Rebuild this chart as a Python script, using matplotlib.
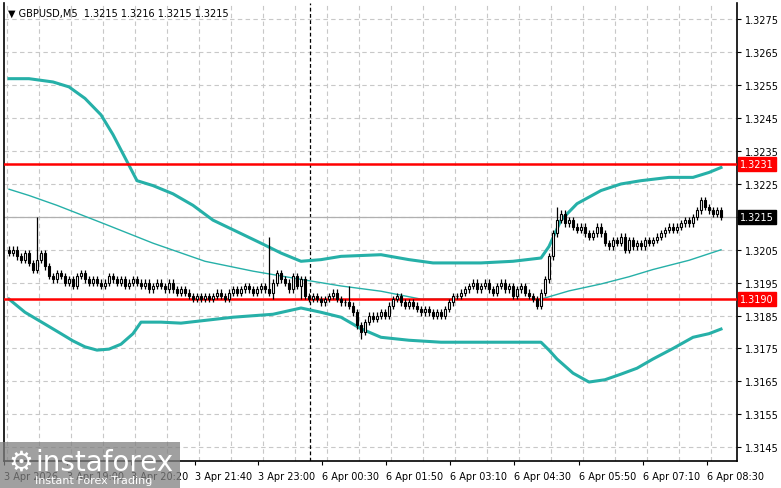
import matplotlib
matplotlib.use("Agg")
import matplotlib.pyplot as plt
import numpy as np
from matplotlib.patches import Rectangle

BASE = 1.3100
PIP = 0.0001
closes = [104,105,103,102,104,101,99,102,104,100,97,96,
          98,97,95,96,94,97,98,96,95,96,95,94,
          95,97,96,95,96,94,95,96,95,94,95,93,94,95,94,93,95,93,92,93,
          92,91,90,91,90,91,90,91,92,91,90,92,
          93,92,93,94,93,92,93,94,93,92,95,98,96,95,93,97,94,96,
          91,90,91,90,89,90,91,92,90,
          89,89,88,86,82,80,83,85,84,
          85,86,85,88,90,91,89,88,89,
          88,87,86,87,86,85,86,85,87,89,91,
          91,92,93,94,95,93,94,95,93,92,94,95,93,94,91,93,94,92,91,90,88,
          92,96,103,110,114,116,113,114,
          112,111,112,110,109,110,112,110,107,106,108,107,109,105,108,106,107,
          106,108,107,108,109,110,111,112,111,112,113,114,113,
          115,117,120,118,117,116,117,115]
high_spikes = {7: 115, 65: 109, 85: 94, 137: 118}
low_spikes = {88: 78, 66: 90, 73: 90}

band_idx_u = [0,5,11,15,19,23,26,29,32,36,41,46,51,57,63,68,73,78,83,93,100,106,118,126,133,135,138,142,148,153,158,165,171,175,178]
upper = [157,157,156,154.5,151,146,140,133,126,124.5,122,118.5,114,110.5,107,104,101.5,102,103,103.5,102,101,101,101.5,102.5,106,114,119,123,125,126,127,127,128.5,130]
band_idx_m = [0,5,12,24,36,49,61,73,83,93,103,118,133,140,148,155,161,170,178]
middle = [123.4,121.5,118.5,112.8,107,101.5,98.5,96,94,92.4,90,90,90,92.5,94.6,96.8,99,101.8,105]
band_idx_l = [0,4,9,13,16,19,22,25,28,31,33,38,43,56,66,73,78,83,88,93,100,108,120,133,135,137,141,145,149,153,157,161,166,171,175,178]
lower = [90,86,82.4,79.5,77.3,75.5,74.5,74.8,76.3,79.5,83,83,82.7,84.5,85.4,87.3,86,84.5,81,78.4,77.5,76.9,76.9,76.9,74.5,71.8,67.5,64.8,65.5,67.2,69,71.8,75,78.4,79.5,80.9]

level_lines = [1.3231, 1.3190]
current_price = 1.3215
price_ticks = [1.3145 + 0.0010*k for k in range(14)]
time_labels = ["3 Apr 2026","3 Apr 19:00","3 Apr 20:20","3 Apr 21:40","3 Apr 23:00","6 Apr 00:30",
               "6 Apr 01:50","6 Apr 03:10","6 Apr 04:30","6 Apr 05:50","6 Apr 07:10","6 Apr 08:30"]

W, H = 781, 489
fig = plt.figure(figsize=(W/100, H/100), dpi=100)
ax = fig.add_axes([4/W, (H-462)/H, (737-4)/W, (462-4)/H])
x0 = -1.25
ax.set_xlim(x0, x0 + 733/4)
ax.set_ylim(1.31408, 1.3280)

for t in price_ticks:
    ax.axhline(t, color="#c8c8c8", lw=0.8, ls=(0,(4,3)), zorder=0)
for gx in np.arange(-0.5, 185, 8):
    ax.axvline(gx, color="#c8c8c8", lw=0.8, ls=(0,(4,3)), zorder=0)
ax.axvline(75.25, color="black", lw=0.9, ls=(0,(3,2)), zorder=1)

cb = "#26b0a8"
ax.plot(band_idx_u, [BASE+v*PIP for v in upper], color=cb, lw=2.2, zorder=2)
ax.plot(band_idx_l, [BASE+v*PIP for v in lower], color=cb, lw=2.2, zorder=2)
ax.plot(band_idx_m, [BASE+v*PIP for v in middle], color=cb, lw=1.0, zorder=2)

ax.axhline(current_price, color="#b0b0b0", lw=0.9, zorder=1)
for lv in level_lines:
    ax.axhline(lv, color="#ff0000", lw=1.8, zorder=3)

prev = closes[0] + 1
for i, c in enumerate(closes):
    o = prev
    hi = max(o, c) + 1
    lo = min(o, c) - 1
    hi = high_spikes.get(i, hi)
    lo = low_spikes.get(i, lo)
    ax.vlines(i, BASE+lo*PIP, BASE+hi*PIP, color="black", lw=0.9, zorder=4)
    bot = min(o, c); h = abs(c - o)
    if h < 0.3:
        ax.hlines(BASE+c*PIP, i-0.35, i+0.35, color="black", lw=0.9, zorder=5)
    else:
        ax.add_patch(Rectangle((i-0.35, BASE+bot*PIP), 0.7, h*PIP,
                               facecolor="white" if c > o else "black",
                               edgecolor="black", lw=0.8, zorder=5))
    prev = c

ax.spines["top"].set_visible(False)
for s in ["left", "bottom", "right"]:
    ax.spines[s].set_linewidth(1.2)
ax.yaxis.tick_right()
ax.set_yticks(price_ticks)
ax.set_yticklabels(["" if abs(t-current_price) < 1e-6 else f"{t:.4f}" for t in price_ticks], fontsize=7)
ax.tick_params(axis="y", length=3, pad=3)
tick_x = [x0 + (px-4)/4 for px in [4,67,131,195,258,322,386,450,514,579,643,707]]
ax.set_xticks(tick_x)
ax.set_xticklabels(time_labels, fontsize=7, ha="left")
ax.tick_params(axis="x", length=3, pad=4)

def tag(y, text, fc, tc):
    ax.text(1.004, y, text, transform=ax.get_yaxis_transform(), fontsize=7, color=tc,
            va="center", ha="left", zorder=10,
            bbox=dict(boxstyle="square,pad=0.2", fc=fc, ec=fc))
tag(1.3231, "1.3231", "#ff0000", "white")
tag(1.3190, "1.3190", "#ff0000", "white")
tag(current_price, "1.3215", "black", "white")

ax.text(0.005, 0.99, "▼ GBPUSD,M5  1.3215 1.3216 1.3215 1.3215", transform=ax.transAxes,
        fontsize=7, va="top", ha="left")

fig.patches.append(Rectangle((0, 0), 180/W, 46/H, transform=fig.transFigure,
                             facecolor="#808080", alpha=0.75, zorder=20))
fig.text(35/W, 26/H, "instaforex", fontsize=20, color="white", va="center", ha="left", zorder=21)
fig.text(35/W, 8/H, "Instant Forex Trading", fontsize=8, color="white", va="center", ha="left", zorder=21)
fig.text(8/W, 26/H, "⚙", fontsize=20, color="white", va="center", ha="left", zorder=21)

fig.savefig("out.png", dpi=100)
